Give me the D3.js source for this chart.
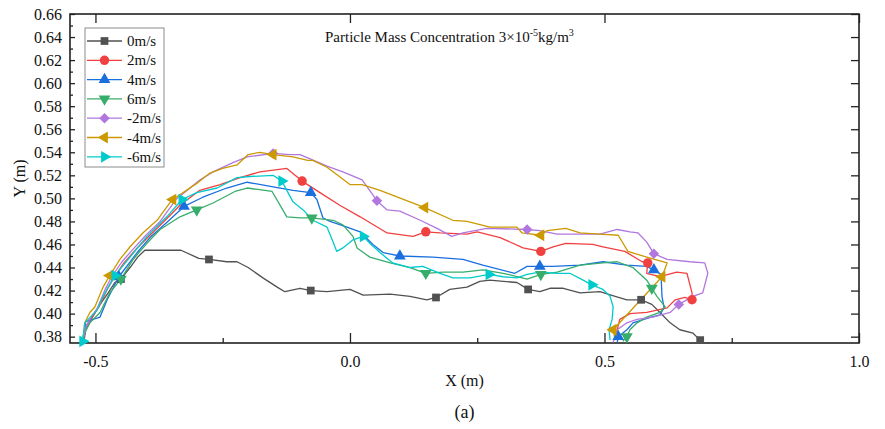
<!DOCTYPE html>
<html>
<head>
<meta charset="utf-8">
<script src="https://cdn.jsdelivr.net/npm/d3@7"></script>
<style>
  body { margin: 0; background: #fff; }
  svg { display: block; font-family: "Liberation Serif", "Times New Roman", serif; }
</style>
</head>
<body>
<svg id="chart" width="885" height="429"></svg>
<script>
// trajectories [x, y, marker?]  (x, y in m)
const s0 = [[-0.523,0.375],[-0.519,0.386],[-0.507,0.396],[-0.491,0.408],[-0.475,0.418],[-0.462,0.427],[-0.450,0.430,1],[-0.432,0.440],[-0.417,0.449],[-0.403,0.455],[-0.332,0.455],[-0.297,0.448],[-0.277,0.447,1],[-0.242,0.445],[-0.222,0.445],[-0.200,0.440],[-0.171,0.431],[-0.143,0.423],[-0.128,0.419],[-0.098,0.422],[-0.077,0.420,1],[-0.045,0.419],[0,0.421],[0.026,0.416],[0.079,0.417],[0.118,0.415],[0.151,0.412],[0.169,0.414,1],[0.196,0.421],[0.230,0.423],[0.255,0.428],[0.275,0.429],[0.301,0.428],[0.328,0.427],[0.350,0.421,1],[0.373,0.419],[0.393,0.422],[0.419,0.422],[0.452,0.418],[0.491,0.419],[0.521,0.415],[0.544,0.412],[0.572,0.412,1],[0.593,0.408],[0.609,0.401],[0.629,0.392],[0.648,0.386],[0.674,0.383],[0.688,0.377,1]];

const s2 = [[-0.525,0.375],[-0.519,0.389],[-0.505,0.398],[-0.493,0.406],[-0.477,0.421],[-0.464,0.431],[-0.444,0.444],[-0.420,0.456],[-0.393,0.468],[-0.363,0.481],[-0.334,0.494],[-0.295,0.507],[-0.255,0.512],[-0.216,0.518],[-0.177,0.523],[-0.124,0.526],[-0.094,0.515,1],[-0.059,0.505],[-0.020,0.494],[0.020,0.484],[0.073,0.470],[0.124,0.467],[0.149,0.471,1],[0.177,0.470],[0.230,0.469],[0.250,0.471],[0.295,0.466],[0.340,0.457],[0.375,0.454,1],[0.399,0.458],[0.424,0.461],[0.477,0.460],[0.497,0.458],[0.540,0.454],[0.574,0.445],[0.585,0.444,1],[0.583,0.435],[0.609,0.432],[0.642,0.436],[0.662,0.435],[0.672,0.418],[0.672,0.412,1],[0.658,0.414],[0.639,0.412],[0.623,0.405],[0.583,0.401],[0.550,0.400],[0.530,0.395],[0.525,0.386],[0.521,0.377]];

const s4 = [[-0.525,0.376],[-0.519,0.393],[-0.491,0.397],[-0.477,0.412],[-0.454,0.432,1],[-0.418,0.453],[-0.393,0.466],[-0.360,0.479],[-0.326,0.493,1],[-0.289,0.501],[-0.242,0.509],[-0.202,0.514],[-0.151,0.510],[-0.112,0.507],[-0.077,0.505,1],[-0.065,0.499],[-0.053,0.483],[-0.039,0.480],[-0.006,0.475],[0.020,0.471],[0.045,0.460],[0.065,0.453],[0.098,0.450,1],[0.163,0.449],[0.222,0.447],[0.261,0.442],[0.324,0.435],[0.348,0.441],[0.373,0.441,1],[0.399,0.441],[0.452,0.442],[0.497,0.445],[0.544,0.442],[0.583,0.441],[0.597,0.438,1],[0.611,0.434],[0.613,0.415],[0.617,0.405],[0.609,0.399],[0.585,0.396],[0.556,0.392],[0.544,0.386],[0.527,0.380,1],[0.525,0.375]];

const s6 = [[-0.525,0.380],[-0.511,0.392],[-0.491,0.401],[-0.472,0.418],[-0.450,0.430,1],[-0.426,0.447],[-0.399,0.461],[-0.373,0.473],[-0.334,0.484],[-0.301,0.490,1],[-0.269,0.496],[-0.226,0.506],[-0.202,0.509],[-0.153,0.506],[-0.124,0.484],[-0.098,0.483],[-0.075,0.483,1],[-0.033,0.481],[-0.014,0.477],[0.006,0.467],[0.014,0.457],[0.039,0.449],[0.079,0.444],[0.118,0.440],[0.149,0.435,1],[0.183,0.436],[0.222,0.436],[0.261,0.438],[0.301,0.435],[0.348,0.430],[0.375,0.434,1],[0.407,0.436],[0.452,0.442],[0.497,0.444],[0.525,0.445],[0.556,0.440],[0.583,0.429],[0.593,0.422,1],[0.603,0.415],[0.619,0.406],[0.609,0.401],[0.583,0.397],[0.564,0.392],[0.550,0.386],[0.544,0.380,1],[0.536,0.376]];

const sN2 = [[-0.525,0.375],[-0.519,0.388],[-0.507,0.398],[-0.497,0.404],[-0.481,0.421],[-0.468,0.432],[-0.448,0.445],[-0.426,0.456],[-0.401,0.468],[-0.373,0.480],[-0.350,0.494],[-0.342,0.499],[-0.295,0.516],[-0.269,0.523],[-0.230,0.531],[-0.202,0.536],[-0.151,0.539,1],[-0.118,0.538],[-0.098,0.538],[-0.045,0.528],[-0.014,0.523],[0.024,0.516],[0.053,0.498,1],[0.073,0.490],[0.098,0.489],[0.138,0.481],[0.171,0.474],[0.200,0.467],[0.222,0.470],[0.269,0.474],[0.348,0.473,1],[0.373,0.472],[0.407,0.469],[0.438,0.469],[0.491,0.469],[0.525,0.473],[0.550,0.471],[0.566,0.470],[0.583,0.462],[0.597,0.452,1],[0.623,0.447],[0.668,0.445],[0.697,0.444],[0.703,0.435],[0.693,0.418],[0.674,0.415],[0.646,0.408,1],[0.629,0.401],[0.595,0.397],[0.564,0.395],[0.544,0.392],[0.525,0.386],[0.517,0.375]];

const sN4 = [[-0.525,0.375],[-0.521,0.392],[-0.511,0.401],[-0.501,0.406],[-0.485,0.423],[-0.472,0.433,1],[-0.452,0.447],[-0.432,0.458],[-0.407,0.470],[-0.379,0.481],[-0.354,0.496],[-0.348,0.499,1],[-0.301,0.513],[-0.275,0.522],[-0.250,0.526],[-0.222,0.529],[-0.200,0.538],[-0.177,0.540],[-0.151,0.538,1],[-0.112,0.536],[-0.083,0.533],[-0.073,0.533],[-0.045,0.527],[0,0.512],[0.024,0.512],[0.059,0.507],[0.147,0.492,1],[0.202,0.481],[0.230,0.480],[0.275,0.475],[0.328,0.475],[0.338,0.470],[0.375,0.468,1],[0.387,0.472],[0.424,0.474],[0.452,0.470],[0.491,0.469],[0.527,0.468],[0.546,0.454],[0.583,0.449],[0.623,0.444],[0.613,0.432,1],[0.517,0.386,1],[0.521,0.377]];

const sN6 = [[-0.525,0.376,1],[-0.521,0.392],[-0.497,0.403],[-0.485,0.415],[-0.462,0.433,1],[-0.432,0.449],[-0.399,0.467],[-0.360,0.484],[-0.330,0.499,1],[-0.301,0.505],[-0.261,0.509],[-0.222,0.518],[-0.196,0.519],[-0.151,0.520],[-0.134,0.515,1],[-0.124,0.507],[-0.112,0.497],[-0.092,0.490],[-0.073,0.481],[-0.045,0.475],[-0.033,0.462],[-0.026,0.454],[-0.014,0.457],[0.006,0.464],[0.026,0.467,1],[0.039,0.461],[0.059,0.453],[0.084,0.444],[0.118,0.440],[0.143,0.441],[0.177,0.435],[0.202,0.431],[0.236,0.431],[0.273,0.434,1],[0.301,0.432],[0.328,0.431],[0.348,0.434],[0.373,0.436],[0.407,0.435],[0.432,0.435],[0.458,0.429],[0.475,0.425,1],[0.497,0.421],[0.511,0.415],[0.517,0.406],[0.515,0.395],[0.509,0.386],[0.511,0.377]];

const seriesNames = ["0m/s", "2m/s", "4m/s", "6m/s", "-2m/s", "-4m/s", "-6m/s"];
const seriesData = [s0, s2, s4, s6, sN2, sN4, sN6];
const xTicks = [-0.5, 0.0, 0.5, 1.0];
const xMinorTicks = [-0.25, 0.25, 0.75];
const yTicks = [0.38, 0.40, 0.42, 0.44, 0.46, 0.48, 0.50, 0.52, 0.54, 0.56, 0.58, 0.60, 0.62, 0.64, 0.66];
const yMinorTicks = [0.39, 0.41, 0.43, 0.45, 0.47, 0.49, 0.51, 0.53, 0.55, 0.57, 0.59, 0.61, 0.63, 0.65];

const colors = ["#515151", "#F14040", "#1A6FDF", "#37AD6B", "#B177DE", "#CC9900", "#00CBCC"];
// symbol type and rotation per series
const shapes = [
  [d3.symbolSquare, 0, 60],
  [d3.symbolCircle, 0, 70],
  [d3.symbolTriangle, 0, 60],
  [d3.symbolTriangle, 180, 60],
  [d3.symbolSquare, 45, 55],
  [d3.symbolTriangle, -90, 60],
  [d3.symbolTriangle, 90, 60]
];

const W = 885, H = 429;
const margin = { top: 14, right: 26, bottom: 86, left: 70 };
const iw = W - margin.left - margin.right;
const ih = H - margin.top - margin.bottom;

const svg = d3.select('#chart');
const g = svg.append('g').attr('transform', `translate(${margin.left},${margin.top})`);

const x = d3.scaleLinear().domain([-0.55, 1.0]).range([0, iw]);
const y = d3.scaleLinear().domain([0.3745, 0.66]).range([ih, 0]);

svg.append('defs').append('clipPath').attr('id', 'clip')
  .append('rect').attr('width', iw).attr('height', ih);

//軸
const axisColor = '#222';
function styleAxis(sel) {
  sel.select('.domain').remove();
  sel.selectAll('line').attr('stroke', axisColor).attr('stroke-width', 1.3);
  sel.selectAll('text').attr('fill', '#111').style('font-size', '16px')
    .style('font-family', '"Liberation Serif", serif');
}

g.append('g').attr('transform', `translate(0,${ih})`)
  .call(d3.axisBottom(x).tickValues(xTicks).tickSize(-10).tickPadding(13).tickFormat(d => d.toFixed(1)))
  .call(styleAxis);
g.append('g').attr('transform', `translate(0,${ih})`)
  .call(d3.axisBottom(x).tickValues(xMinorTicks).tickSize(-5).tickFormat(''))
  .call(styleAxis);
g.append('g')
  .call(d3.axisTop(x).tickValues(xTicks).tickSize(-9).tickFormat(''))
  .call(styleAxis);

g.append('g')
  .call(d3.axisLeft(y).tickValues(yTicks).tickSize(-5).tickPadding(8).tickFormat(d => d.toFixed(2)))
  .call(styleAxis);
g.append('g')
  .call(d3.axisLeft(y).tickValues(yMinorTicks).tickSize(-3).tickFormat(''))
  .call(styleAxis);
g.append('g').attr('transform', `translate(${iw},0)`)
  .call(d3.axisRight(y).tickValues(yTicks).tickSize(-8).tickFormat(''))
  .call(styleAxis);

g.append('rect').attr('width', iw).attr('height', ih)
  .attr('fill', 'none').attr('stroke', axisColor).attr('stroke-width', 1.6);

//曲線
const line = d3.line().x(d => x(d[0])).y(d => y(d[1]));
const plot = g.append('g').attr('clip-path', 'url(#clip)');

seriesData.forEach((data, i) => {
  plot.append('path')
    .datum(data)
    .attr('d', line)
    .attr('fill', 'none')
    .attr('stroke', colors[i])
    .attr('stroke-width', 1.3)
    .attr('stroke-linejoin', 'round');
});

seriesData.forEach((data, i) => {
  const [type, rot, size] = shapes[i];
  const sym = d3.symbol().type(type).size(size);
  g.append('g').selectAll('path')
    .data(data.filter(d => d[2]))
    .enter()
    .append('path')
    .attr('d', sym)
    .attr('transform', d => `translate(${x(d[0])},${y(d[1])}) rotate(${rot})`)
    .attr('fill', colors[i]);
});

//圖例
const legend = svg.append('g').attr('transform', 'translate(85,28)');
legend.append('rect').attr('width', 79).attr('height', 139)
  .attr('fill', '#fff').attr('stroke', '#8c8c8c').attr('stroke-width', 1);
seriesNames.forEach((name, i) => {
  const ly = 13 + i * 19.3;
  const row = legend.append('g').attr('transform', `translate(0,${ly})`);
  row.append('line').attr('x1', 2).attr('x2', 37).attr('y1', 0).attr('y2', 0)
    .attr('stroke', colors[i]).attr('stroke-width', 1.3);
  const [type, rot, size] = shapes[i];
  row.append('path').attr('d', d3.symbol().type(type).size(size))
    .attr('transform', `translate(19.5,0) rotate(${rot})`).attr('fill', colors[i]);
  row.append('text').attr('x', 42).attr('y', 5).text(name)
    .style('font-size', '15px').attr('fill', '#111');
});

//標題
const title = svg.append('text').attr('x', 325).attr('y', 42)
  .style('font-size', '15px').attr('fill', '#111');
title.append('tspan').text('Particle Mass Concentration 3×10');
title.append('tspan').attr('dy', -6).style('font-size', '10px').text('-5');
title.append('tspan').attr('dy', 6).text('kg/m');
title.append('tspan').attr('dy', -6).style('font-size', '10px').text('3');

svg.append('text').attr('x', margin.left + iw / 2).attr('y', 386)
  .attr('text-anchor', 'middle').style('font-size', '16px').attr('fill', '#111').text('X (m)');
svg.append('text')
  .attr('transform', `translate(25,${margin.top + ih / 2}) rotate(-90)`)
  .attr('text-anchor', 'middle').style('font-size', '16px').attr('fill', '#111').text('Y (m)');
svg.append('text').attr('x', margin.left + iw / 2).attr('y', 418)
  .attr('text-anchor', 'middle').style('font-size', '18px').attr('fill', '#111').text('(a)');
</script>
</body>
</html>
